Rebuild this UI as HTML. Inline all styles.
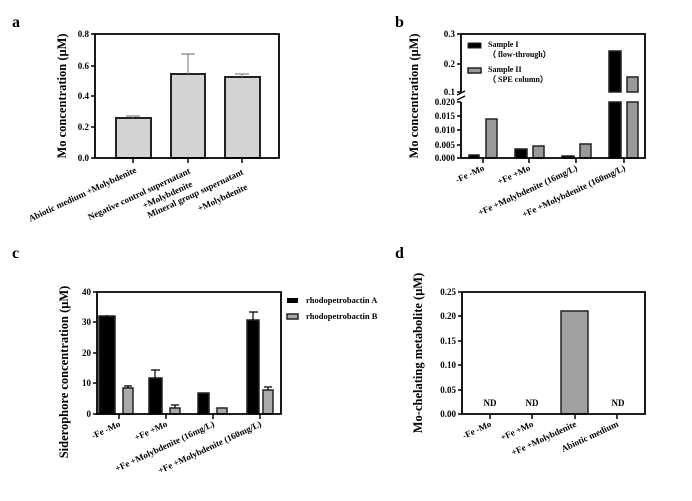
<!DOCTYPE html>
<html><head><meta charset="utf-8"><style>
body{margin:0;background:#fff;}
svg{display:block;font-family:"Liberation Serif",serif;font-weight:bold;}
</style></head><body>
<svg width="692" height="501" viewBox="0 0 692 501" xmlns="http://www.w3.org/2000/svg">
<g fill="#000">
<text x="12" y="27" font-size="16">a</text>
<text x="395" y="27" font-size="16">b</text>
<text x="12" y="258" font-size="16">c</text>
<text x="395" y="258" font-size="16">d</text>
</g>

<!-- Panel a -->
<g stroke="#222" stroke-width="2">
<rect x="116" y="118" width="35" height="40" fill="#d3d3d3"/>
<rect x="171" y="74" width="34" height="84" fill="#d3d3d3"/>
<rect x="225" y="77" width="35" height="81" fill="#d3d3d3"/>
</g>
<g stroke="#888" stroke-width="1.2" fill="none">
<path d="M188 74V54M181 54H195"/>
<path d="M242 77V74M235 74H249"/>
<path d="M133 118V116M126 116H140"/>
</g>
<path d="M95 34H279V158H95Z" fill="none" stroke="#000" stroke-width="1.8"/>
<g stroke="#000" stroke-width="1.5"><path d="M91 34H95M91 66H95M91 96H95M91 127H95M91 158H95M133 158V163M188 158V163M242 158V163"/></g>
<g font-size="9" text-anchor="end">
<text x="89" y="37">0.8</text><text x="89" y="69">0.6</text><text x="89" y="99">0.4</text><text x="89" y="130">0.2</text><text x="89" y="161">0.0</text>
</g>
<text transform="translate(66,96) rotate(-90)" font-size="12.5" text-anchor="middle">Mo concentration (μM)</text>
<g font-size="9" text-anchor="end">
<text transform="translate(137,172) rotate(-25)">Abiotic medium +Molybdenite</text>
<text transform="translate(191,173) rotate(-25)">Negative control supernatant</text>
<text transform="translate(193,186) rotate(-25)">+Molybdenite</text>
<text transform="translate(244,174) rotate(-25)">Mineral group supernatant</text>
<text transform="translate(248,189) rotate(-25)">+Molybdenite</text>
</g>

<!-- Panel b -->
<g stroke="#222" stroke-width="1.5">
<rect x="469" y="155" width="10" height="3" fill="#000"/>
<rect x="486" y="119" width="11" height="39" fill="#999"/>
<rect x="515" y="149" width="12" height="9" fill="#000"/>
<rect x="533" y="146" width="11" height="12" fill="#999"/>
<rect x="562" y="156" width="12" height="2" fill="#000"/>
<rect x="580" y="144" width="11" height="14" fill="#999"/>
<rect x="609" y="51" width="12" height="41" fill="#000"/>
<rect x="609" y="102" width="12" height="56" fill="#000"/>
<rect x="627" y="77" width="11" height="15" fill="#999"/>
<rect x="627" y="102" width="11" height="56" fill="#999"/>
</g>
<path d="M461 92V34H645V158H461V102" fill="none" stroke="#000" stroke-width="1.8"/>
<path d="M457 95L465 91M457 100L465 96" stroke="#000" stroke-width="1.3"/>
<g stroke="#000" stroke-width="1.5"><path d="M457 34H461M457 64H461M457 92H461M457 102H461M457 116H461M457 130H461M457 145H461M457 158H461M483 158V163M529 158V163M576 158V163M624 158V163"/></g>
<g font-size="9" text-anchor="end">
<text x="455" y="37">0.3</text><text x="455" y="67">0.2</text><text x="455" y="95">0.1</text>
<text x="455" y="105">0.020</text><text x="455" y="119">0.015</text><text x="455" y="133">0.010</text><text x="455" y="148">0.005</text><text x="455" y="161">0.000</text>
</g>
<text transform="translate(418,96) rotate(-90)" font-size="12.5" text-anchor="middle">Mo concentration (μM)</text>
<rect x="468" y="43" width="13" height="5" fill="#000" stroke="#222"/>
<rect x="468" y="68" width="13" height="5" fill="#999" stroke="#222" stroke-width="1.5"/>
<g font-size="8">
<text x="488" y="47">Sample I</text><text x="488" y="57">（ flow-through）</text>
<text x="488" y="72">Sample II</text><text x="488" y="82">（ SPE column）</text>
</g>
<g font-size="9" text-anchor="end">
<text transform="translate(485,170) rotate(-25)">-Fe -Mo</text>
<text transform="translate(531,170) rotate(-25)">+Fe +Mo</text>
<text transform="translate(578,170) rotate(-25)">+Fe +Molybdenite (16mg/L)</text>
<text transform="translate(626,170) rotate(-25)">+Fe +Molybdenite (160mg/L)</text>
</g>

<!-- Panel c -->
<g stroke="#222" stroke-width="1.5">
<rect x="99" y="316" width="16" height="98" fill="#000"/>
<rect x="123" y="388" width="10" height="26" fill="#aaa"/>
<rect x="149" y="378" width="13" height="36" fill="#000"/>
<rect x="170" y="408" width="10" height="6" fill="#aaa"/>
<rect x="198" y="393" width="11" height="21" fill="#000"/>
<rect x="217" y="408" width="10" height="6" fill="#aaa"/>
<rect x="247" y="320" width="12" height="94" fill="#000"/>
<rect x="263" y="390" width="10" height="24" fill="#aaa"/>
</g>
<g stroke="#000" stroke-width="1.2" fill="none">
<path d="M155 378V370M151 370H160M175 408V405M171 405H179M253 320V312M249 312H258M268 390V387M264 387H272M128 388V386M124 386H132M107 316V315"/>
</g>
<path d="M97 292H281V414H97Z" fill="none" stroke="#000" stroke-width="1.8"/>
<g stroke="#000" stroke-width="1.5"><path d="M93 292H97M93 322H97M93 353H97M93 383H97M93 414H97M119 414V419M166 414V419M213 414V419M260 414V419"/></g>
<g font-size="9" text-anchor="end">
<text x="91" y="295">40</text><text x="91" y="325">30</text><text x="91" y="356">20</text><text x="91" y="386">10</text><text x="91" y="417">0</text>
</g>
<text transform="translate(68,372) rotate(-90)" font-size="12.5" text-anchor="middle">Siderophore concentration (μM)</text>
<rect x="287" y="298" width="11" height="5" fill="#000"/>
<rect x="287" y="314" width="11" height="5" fill="#aaa" stroke="#222" stroke-width="1.5"/>
<g font-size="8.5"><text x="306" y="303">rhodopetrobactin A</text><text x="306" y="319">rhodopetrobactin B</text></g>
<g font-size="9" text-anchor="end">
<text transform="translate(121,426) rotate(-25)">-Fe -Mo</text>
<text transform="translate(168,426) rotate(-25)">+Fe +Mo</text>
<text transform="translate(215,426) rotate(-25)">+Fe +Molybdenite (16mg/L)</text>
<text transform="translate(262,426) rotate(-25)">+Fe +Molybdenite (160mg/L)</text>
</g>

<!-- Panel d -->
<rect x="561" y="311" width="27" height="103" fill="#a0a0a0" stroke="#222" stroke-width="1.5"/>
<path d="M462 292H645V414H462Z" fill="none" stroke="#000" stroke-width="1.8"/>
<g stroke="#000" stroke-width="1.5"><path d="M458 292H462M458 316H462M458 341H462M458 365H462M458 390H462M458 414H462M490 414V419M532 414V419M575 414V419M617 414V419"/></g>
<g font-size="9" text-anchor="end">
<text x="456" y="295">0.25</text><text x="456" y="319">0.20</text><text x="456" y="344">0.15</text><text x="456" y="368">0.10</text><text x="456" y="393">0.05</text><text x="456" y="417">0.00</text>
</g>
<g font-size="9" text-anchor="middle"><text x="490" y="406">ND</text><text x="532" y="406">ND</text><text x="618" y="406">ND</text></g>
<text transform="translate(422,353) rotate(-90)" font-size="12.5" text-anchor="middle">Mo-chelating metabolite (μM)</text>
<g font-size="9" text-anchor="end">
<text transform="translate(492,426) rotate(-25)">-Fe -Mo</text>
<text transform="translate(534,426) rotate(-25)">+Fe +Mo</text>
<text transform="translate(577,426) rotate(-25)">+Fe +Molybdenite</text>
<text transform="translate(619,426) rotate(-25)">Abiotic medium</text>
</g>
</svg>
</body></html>
